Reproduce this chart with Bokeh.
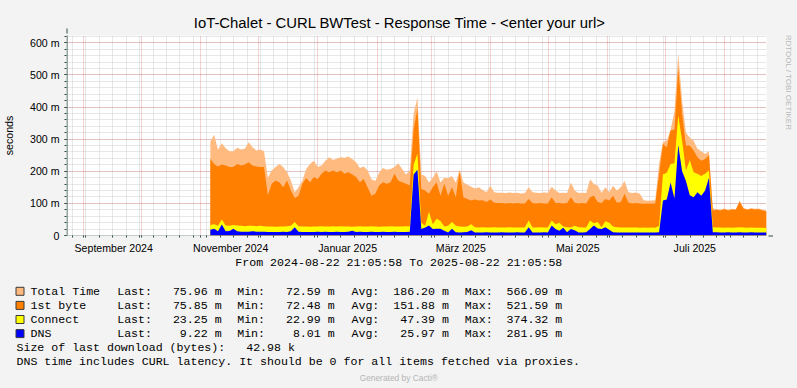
import math
from datetime import datetime, timedelta
import pandas as pd
from bokeh.plotting import figure
from bokeh.layouts import column, row
from bokeh.models import (ColumnDataSource, Range1d, FixedTicker, Grid, Arrow, NormalHead)
from bokeh.core.properties import value
from bokeh.embed import file_html
from bokeh.resources import INLINE

# ---------------- data ----------------
title_text = "IoT-Chalet - CURL BWTest - Response Time - <enter your url>"
side_text = "RRDTOOL / TOBI OETIKER"
footer_text = "Generated by Cacti®"
period_start = datetime(2024, 8, 22, 21, 5, 58)
period_end = datetime(2025, 8, 22, 21, 5, 58)
sample_times = pd.date_range("2024-11-05 21:00", periods=146, freq="2D")

# values in milliseconds ("m" = milli-seconds)
total_time = [293, 314, 267, 287, 272, 262, 262, 273, 268, 270, 290, 275, 265, 268, 262,
              180, 202, 213, 223, 213, 197, 171, 135, 150, 171, 207, 223, 233, 213, 218,
              233, 244, 235, 240, 244, 242, 246, 238, 228, 210, 215, 202, 175, 170, 195,
              210, 205, 207, 213, 225, 207, 190, 202,
              380, 430, 190,
              185, 165, 180, 200, 165, 180, 178, 185, 165, 205, 165, 158, 152, 146, 150,
              142, 135, 155, 135, 133, 133, 132, 134, 132, 133, 131, 132, 150, 135, 133,
              132, 134, 133, 152, 140,
              132, 133, 132, 165, 140, 132, 133, 132, 175, 160, 155, 133, 150, 135, 155,
              140, 150, 170, 135, 132, 134, 130, 110, 108, 109, 110,
              224, 290, 295, 330, 385, 566, 420, 320, 305, 295, 270, 262, 254, 262,
              85, 82, 80, 84, 80, 83, 82, 109, 86, 82, 85, 83, 84, 80, 76]
first_byte = [239, 223, 215, 221, 218, 213, 213, 223, 218, 221, 228, 218, 215, 213, 213,
              125, 161, 171, 166, 150, 171, 140, 117, 124, 161, 179, 166, 182, 176, 192,
              202, 197, 202, 197, 202, 192, 197, 190, 182, 166, 176, 150, 124, 130, 156,
              166, 161, 166, 192, 171, 166, 161, 156,
              330, 395, 145,
              140, 130, 150, 166, 124, 161, 124, 150, 119, 200, 119, 114, 109, 112, 109,
              110, 104, 112, 102, 101, 101, 100, 101, 100, 101, 100, 100, 114, 101, 100,
              101, 100, 100, 119, 101,
              101, 100, 101, 119, 102, 100, 101, 100, 119, 124, 104, 101, 114, 109, 124,
              102, 104, 130, 103, 100, 101, 100, 99, 100, 99, 100,
              190, 285, 275, 327, 330, 521, 380, 280, 280, 265, 244, 233, 238, 250,
              78, 80, 78, 82, 78, 81, 80, 105, 84, 80, 83, 81, 82, 78, 76]
connect = [33, 35, 30, 50, 31, 30, 33, 31, 30, 29,
           30, 30, 29, 30, 29, 28, 28, 27, 28, 28,
           29, 30, 42, 29, 28, 28, 27, 28, 28, 29,
           28, 28, 29, 28, 29, 28, 28, 27, 28, 29,
           28, 28, 29, 28, 27, 28, 28, 29, 28, 28,
           28, 29, 28,
           220, 255, 40,
           30, 73, 35, 52, 45, 28, 30, 42, 30, 28, 27, 28, 35, 26, 25,
           26, 25, 25, 26, 25, 25, 25, 26, 25, 25, 25, 25, 47, 25, 25,
           26, 25, 25, 47, 35,
           40, 28, 26, 25, 30, 26, 25, 25, 47, 38, 42, 26, 44, 40, 28,
           26, 25, 25, 25, 25, 25, 24, 25, 24, 25, 24,
           30, 190, 195, 223, 225, 374, 295, 202, 235, 197, 192, 185, 192, 202,
           26, 25, 25, 24, 25, 24, 25, 26, 25, 24, 25, 24, 24, 24, 23]
dns = [18, 21, 13, 34, 13, 14, 21, 13, 12, 12,
       12, 13, 12, 12, 12, 11, 11, 11, 11, 12,
       11, 13, 26, 12, 11, 11, 11, 11, 12, 11,
       12, 11, 11, 12, 11, 11, 12, 15, 11, 12,
       11, 11, 12, 11, 11, 12, 11, 11, 12, 11,
       11, 11, 12,
       190, 205, 20,
       25, 31, 20, 21, 21, 15, 9, 21, 10, 9, 10, 11, 16, 9, 9,
       9, 10, 9, 9, 9, 10, 9, 9, 9, 10, 9, 9, 26, 9, 9,
       9, 10, 9, 31, 20,
       15, 24, 10, 20, 16, 9, 9, 10, 20, 31, 22, 20, 26, 18, 10,
       9, 9, 9, 9, 9, 9, 9, 9, 9, 9, 9,
       10, 109, 112, 165, 115, 282, 200, 170, 125, 119, 135, 124, 140, 180,
       10, 10, 9, 9, 10, 9, 9, 10, 9, 9, 10, 9, 9, 9, 9]

series_names = ["Total Time", "1st byte", "Connect", "DNS"]
series_colors = ["#FFBA80", "#FF7F00", "#FFFF00", "#0000FF"]
last_vals = [75.96, 75.85, 23.25, 9.22]
min_vals = [72.59, 72.48, 22.99, 8.01]
avg_vals = [186.20, 151.88, 47.39, 25.97]
max_vals = [566.09, 521.59, 374.32, 281.95]
download_size = "42.98 k"
note_text = "DNS time includes CURL latency. It should be 0 for all items fetched via proxies."

label_months = [(2024, 9), (2024, 11), (2025, 1), (2025, 3), (2025, 5), (2025, 7)]
label_texts = ["September 2024", "November 2024", "Januar 2025", "März 2025", "Mai 2025", "Juli 2025"]
y_ticks = [0, 100, 200, 300, 400, 500, 600]
y_tick_labels = ["0", "100 m", "200 m", "300 m", "400 m", "500 m", "600 m"]
y_minor_step = 20
y_max = 622.7


def ms(d):
    return int(pd.Timestamp(d).value // 1_000_000)


x_ms = [ms(t) for t in sample_times]
month_starts = []
y_, m_ = 2024, 9
while datetime(y_, m_, 1) < period_end:
    month_starts.append(ms(datetime(y_, m_, 1)))
    m_ += 1
    if m_ > 12:
        y_, m_ = y_ + 1, 1
week_lines = []
d = datetime(2024, 8, 26)
while d < period_end:
    week_lines.append(ms(d))
    d += timedelta(days=7)
label_ms = [ms(datetime(yy, mm, 1) + timedelta(days=15, hours=12)) for yy, mm in label_months]

# ---------------- geometry ----------------
W, H = 797, 388
FL, FT, FW, FH = 66, 35, 700, 200
CW_ = 773          # chart figure width
CH_ = 256          # chart figure height
AXIS = "#2C4D43"
BG = "#F3F3F3"
SANS = "Liberation Sans"
MONO = "Liberation Mono"
MS = "11.6px"
CW = 6.96

# ---------------- chart figure ----------------
p = figure(x_range=Range1d(ms(period_start), ms(period_end)), y_range=Range1d(0, y_max),
           frame_width=FW, frame_height=FH,
           min_border_left=FL, min_border_right=CW_ - FL - FW,
           min_border_top=FT, min_border_bottom=CH_ - FT - FH,
           toolbar_location=None, output_backend="svg",
           background_fill_color="#FFFFFF", border_fill_color=BG,
           outline_line_color=None)
p.title.text = title_text
p.title.align = "left"
p.title.offset = 193.3 - FL
p.title.standoff = 9
p.title.text_font = SANS
p.title.text_font_size = "14.85px"
p.title.text_font_style = "normal"
p.title.text_color = "#000000"

# grids: gray minor first, red major after
p.xgrid.ticker = FixedTicker(ticks=week_lines)
p.xgrid.grid_line_color = "#CFCFCF"
p.xgrid.grid_line_dash = "1 1"
p.ygrid.ticker = FixedTicker(ticks=list(range(0, int(y_max), y_minor_step)))
p.ygrid.grid_line_color = "#CFCFCF"
p.ygrid.grid_line_dash = "1 1"
p.add_layout(Grid(dimension=0, ticker=FixedTicker(ticks=month_starts),
                  grid_line_color="#DE5050", grid_line_alpha=0.5, grid_line_dash="1 1"))
p.add_layout(Grid(dimension=1, ticker=FixedTicker(ticks=y_ticks),
                  grid_line_color="#DE5050", grid_line_alpha=0.5, grid_line_dash="1 1"))

# areas (drawn over each other, largest first)
src = ColumnDataSource(dict(x=x_ms, tt=total_time, fb=first_byte, cn=connect, dns=dns))
for col, color in zip(["tt", "fb", "cn", "dns"], series_colors):
    p.varea(x="x", y1=0, y2=col, source=src, fill_color=color, fill_alpha=1.0)

# axes
ax = p.xaxis[0]
ax.ticker = FixedTicker(ticks=label_ms, minor_ticks=sorted(set(week_lines + month_starts)))
ax.major_label_overrides = {t: s for t, s in zip(label_ms, label_texts)}
ax.major_tick_line_color = None
ax.major_tick_out = 0
ax.major_tick_in = 0
ax.minor_tick_out = 2
ax.minor_tick_in = 0
ax.minor_tick_line_color = AXIS
ax.axis_line_color = None
ax.major_label_standoff = 4
ax.major_label_text_font = SANS
ax.major_label_text_font_size = "10.6px"
ax.major_label_text_color = "#000000"

ay = p.yaxis[0]
ay.ticker = FixedTicker(ticks=y_ticks, minor_ticks=list(range(0, int(y_max), y_minor_step)))
ay.major_label_overrides = {t: s for t, s in zip(y_ticks, y_tick_labels)}
ay.major_tick_out = 2
ay.major_tick_in = 0
ay.minor_tick_out = 2
ay.minor_tick_in = 0
ay.major_tick_line_color = AXIS
ay.minor_tick_line_color = AXIS
ay.axis_line_color = None
ay.major_label_standoff = 5
ay.major_label_text_font = SANS
ay.major_label_text_font_size = "10.6px"
ay.major_label_text_color = "#000000"
ay.axis_label = "seconds"
ay.axis_label_standoff = 12
ay.axis_label_text_font = SANS
ay.axis_label_text_font_size = "10.6px"
ay.axis_label_text_font_style = "normal"
ay.axis_label_text_color = "#000000"


def sx(axp):
    return axp - FL


def sy(ayp):
    return FT + FH - ayp


def screen_line(x0, y0, x1, y1, color, width=1, head=None):
    p.add_layout(Arrow(x_start=sx(x0), y_start=sy(y0), x_end=sx(x1), y_end=sy(y1),
                       start_units="screen", end_units="screen", line_color=color,
                       line_width=width, end=head))


# axis lines with arrow heads
screen_line(62, 235.5, 773, 235.5, AXIS, 1, NormalHead(size=5, fill_color=AXIS, line_color=AXIS))
screen_line(66.5, 239, 66.5, 28, AXIS, 1, NormalHead(size=5, fill_color=AXIS, line_color=AXIS))

# ---------------- right strip ----------------
r = figure(width=W - CW_, height=CH_, x_range=Range1d(CW_, W), y_range=Range1d(CH_, 0),
           toolbar_location=None, output_backend="svg", x_axis_location=None,
           y_axis_location=None, min_border=0, outline_line_color=None,
           background_fill_color=BG, border_fill_color=BG)
r.grid.visible = False
r.text(x=[787.7], y=[56.5], text=[side_text], angle=-math.pi / 2,
       text_font=value(SANS), text_font_size=value("8px"), text_color="#B8B8B8",
       text_align=value("center"), text_baseline=value("middle"))

# ---------------- bottom strip (legend) ----------------
b = figure(width=W, height=H - CH_, x_range=Range1d(0, W), y_range=Range1d(H, CH_),
           toolbar_location=None, output_backend="svg", x_axis_location=None,
           y_axis_location=None, min_border=0, outline_line_color=None,
           background_fill_color=BG, border_fill_color=BG)
b.grid.visible = False

row_y0, row_dy = 290.8, 14.1
tx, ty, tt_, ta = [], [], [], []


def add(t, xx, yy, align="left"):
    tx.append(xx)
    ty.append(yy)
    tt_.append(t)
    ta.append(align)


add(f"From {period_start:%Y-%m-%d %H:%M:%S} To {period_end:%Y-%m-%d %H:%M:%S}", 398.3, 262.3, "center")
cols = [("Last:", 116.7, last_vals, 15), ("Min:", 236.7, min_vals, 14),
        ("Avg:", 351.0, avg_vals, 14), ("Max:", 464.3, max_vals, 14)]
sw_y = []
for k, name in enumerate(series_names):
    cy = row_y0 + k * row_dy
    sw_y.append(cy)
    add(name, 30, cy)
    for lab, x0, vals, nch in cols:
        add(lab, x0, cy)
        add(f"{vals[k]:.2f} m", x0 + nch * CW, cy, "right")
cy = row_y0 + 4 * row_dy
add("Size of last download (bytes):", 16, cy)
add(download_size, 16 + 40 * CW, cy, "right")
add(note_text, 16, row_y0 + 5 * row_dy)

b.text(x=tx, y=ty, text=tt_, text_align=ta, text_baseline=value("middle"),
       text_font=value(MONO), text_font_size=value(MS), text_color="#000000")
b.text(x=[398.3], y=[377.3], text=[footer_text], text_align=value("center"),
       text_baseline=value("middle"), text_font=value(SANS),
       text_font_size=value("8.4px"), text_color="#B5B5B5")
b.rect(x=[19.5] * 4, y=sw_y, width=8, height=8, fill_color=series_colors,
       line_color="#3A3A3A", line_width=1)

top = row(p, r, spacing=0, styles={"background-color": BG})
layout = column(top, b, spacing=0, styles={"background-color": BG})
open("out.html", "w").write(file_html(layout, INLINE))
